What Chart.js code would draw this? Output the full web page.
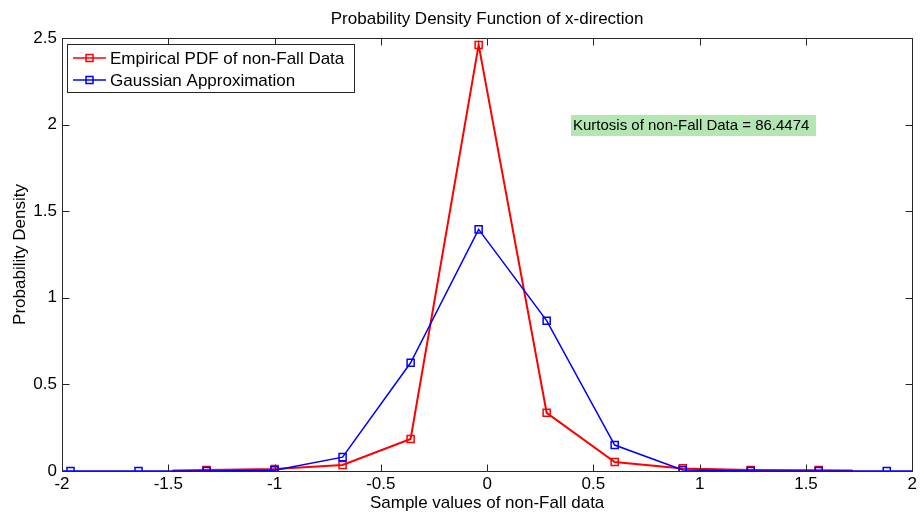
<!DOCTYPE html>
<html>
<head>
<meta charset="utf-8">
<script src="https://cdn.jsdelivr.net/npm/chart.js@4/dist/chart.umd.min.js"></script>
<style>
  html, body { margin: 0; padding: 0; background: #fff; }
  #wrap { width: 920px; height: 515px; position: relative; }
</style>
</head>
<body>
<div id="wrap"><canvas id="c" width="920" height="515"></canvas></div>
<script>
// ---- data ----
const titleText = 'Probability Density Function of x-direction';
const xLabel = 'Sample values of non-Fall data';
const yLabel = 'Probability Density';
const seriesNames = ['Empirical PDF of non-Fall Data', 'Gaussian Approximation'];
const annotationText = 'Kurtosis of non-Fall Data = 86.4474';

const empiricalX = [-1.48, -1.32, -1.00, -0.68, -0.36, -0.04, 0.28, 0.60, 0.92, 1.24, 1.56, 1.72];
const empiricalY = [0.003, 0.006, 0.012, 0.035, 0.185, 2.46, 0.336, 0.052, 0.015, 0.006, 0.005, 0.003];
const empiricalMarker = [false, true, true, true, true, true, true, true, true, true, true, false];

const gaussX = [-2.00, -1.96, -1.64, -1.32, -1.00, -0.68, -0.36, -0.04, 0.28, 0.60, 0.92, 1.24, 1.56, 1.88, 2.00];
const gaussY = [0, 0, 0, 0.0005, 0.004, 0.08, 0.625, 1.395, 0.868, 0.15, 0.006, 0.0005, 0, 0, 0];
const gaussMarker = [false, true, true, true, true, true, true, true, true, true, true, true, true, true, false];

const xTicks = [-2, -1.5, -1, -0.5, 0, 0.5, 1, 1.5, 2];
const yTicks = [0, 0.5, 1, 1.5, 2, 2.5];

// ---- build ----
const FONT = "'Liberation Sans', Arial, Helvetica, sans-serif";
Chart.defaults.font.family = FONT;
Chart.defaults.font.size = 17;
Chart.defaults.color = '#000';

function pts(xs, ys) { return xs.map((x, i) => ({ x: x, y: ys[i] })); }

const framePlugin = {
  id: 'frame',
  afterDatasetsDraw(chart) {
    const ctx = chart.ctx, a = chart.chartArea;
    const xs = chart.scales.x, ys = chart.scales.y;
    const tl = 7;
    const L = Math.round(a.left) + 0.5, R = Math.round(a.right) + 0.5;
    const T = Math.round(a.top) + 0.5, B = Math.round(a.bottom) + 0.5;
    ctx.save();
    ctx.strokeStyle = '#262626';
    ctx.lineWidth = 1;
    ctx.beginPath();
    ctx.rect(L, T, R - L, B - T);
    ctx.stroke();
    ctx.beginPath();
    xTicks.forEach(v => {
      const px = Math.round(xs.getPixelForValue(v)) + 0.5;
      ctx.moveTo(px, B); ctx.lineTo(px, B - tl);
      ctx.moveTo(px, T); ctx.lineTo(px, T + tl);
    });
    yTicks.forEach(v => {
      const py = Math.round(ys.getPixelForValue(v)) + 0.5;
      ctx.moveTo(L, py); ctx.lineTo(L + tl, py);
      ctx.moveTo(R, py); ctx.lineTo(R - tl, py);
    });
    ctx.stroke();

    // title
    ctx.fillStyle = '#000';
    ctx.font = '17px ' + FONT;
    ctx.textAlign = 'center';
    ctx.textBaseline = 'middle';
    ctx.fillText(titleText, (a.left + a.right) / 2, 19);

    // legend
    const lx = 67, ly = 44, lw = 287, lh = 48;
    ctx.fillStyle = '#fff';
    ctx.fillRect(lx, ly, lw, lh);
    ctx.strokeStyle = '#262626';
    ctx.strokeRect(lx + 0.5, ly + 0.5, lw, lh);
    const cols = ['#ff0000', '#0000ff'];
    const rows = [58, 80];
    seriesNames.forEach((n, i) => {
      const y = rows[i];
      ctx.strokeStyle = cols[i];
      ctx.lineWidth = 1.5;
      ctx.beginPath(); ctx.moveTo(73, y); ctx.lineTo(106, y); ctx.stroke();
      ctx.strokeRect(86, y - 3.5, 7, 7);
      ctx.fillStyle = '#000';
      ctx.textAlign = 'left';
      ctx.textBaseline = 'middle';
      ctx.font = '17px ' + FONT;
      ctx.fillText(n, 110, y + 1);
    });

    // annotation
    ctx.fillStyle = 'rgb(179,230,179)';
    ctx.fillRect(571, 115, 245, 21);
    ctx.fillStyle = '#000';
    ctx.font = '15px ' + FONT;
    ctx.textAlign = 'left';
    ctx.textBaseline = 'middle';
    ctx.fillText(annotationText, 573, 126);
    ctx.restore();
  }
};

new Chart(document.getElementById('c'), {
  type: 'scatter',
  data: {
    datasets: [
      {
        label: seriesNames[0],
        data: pts(empiricalX, empiricalY),
        showLine: true,
        borderColor: '#ff0000',
        borderWidth: 2,
        pointStyle: 'rect',
        pointRadius: empiricalMarker.map(m => m ? 5 : 0),
        pointBorderColor: '#ff0000',
        pointBorderWidth: 1.5,
        pointBackgroundColor: 'rgba(0,0,0,0)',
        tension: 0,
        order: 1
      },
      {
        label: seriesNames[1],
        data: pts(gaussX, gaussY),
        showLine: true,
        borderColor: '#0000ff',
        borderWidth: 1.5,
        pointStyle: 'rect',
        pointRadius: gaussMarker.map(m => m ? 5 : 0),
        pointBorderColor: '#0000ff',
        pointBorderWidth: 1.5,
        pointBackgroundColor: 'rgba(0,0,0,0)',
        tension: 0,
        order: 0
      }
    ]
  },
  options: {
    responsive: false,
    animation: false,
    layout: { padding: { top: 38, right: 0, left: 0, bottom: 0 } },
    plugins: {
      legend: { display: false },
      title: { display: false },
      tooltip: { enabled: false }
    },
    scales: {
      x: {
        type: 'linear',
        min: -2, max: 2,
        afterBuildTicks: s => { s.ticks = xTicks.map(v => ({ value: v })); },
        afterFit: s => { s.height = 44; },
        grid: { display: false, drawTicks: false },
        border: { display: false },
        ticks: { padding: 3, maxRotation: 0, autoSkip: false, callback: v => String(v), font: { size: 17 } },
        title: { display: true, text: xLabel, padding: { top: 0, bottom: 1 }, font: { size: 17 } }
      },
      y: {
        type: 'linear',
        min: 0, max: 2.5,
        afterBuildTicks: s => { s.ticks = yTicks.map(v => ({ value: v })); },
        afterFit: s => { s.width = 62; },
        grid: { display: false, drawTicks: false },
        border: { display: false },
        ticks: { padding: 5, autoSkip: false, callback: v => String(v), font: { size: 17 } },
        title: { display: true, text: yLabel, padding: { top: 10, bottom: 0 }, font: { size: 17 } }
      }
    }
  },
  plugins: [framePlugin]
});
</script>
</body>
</html>
